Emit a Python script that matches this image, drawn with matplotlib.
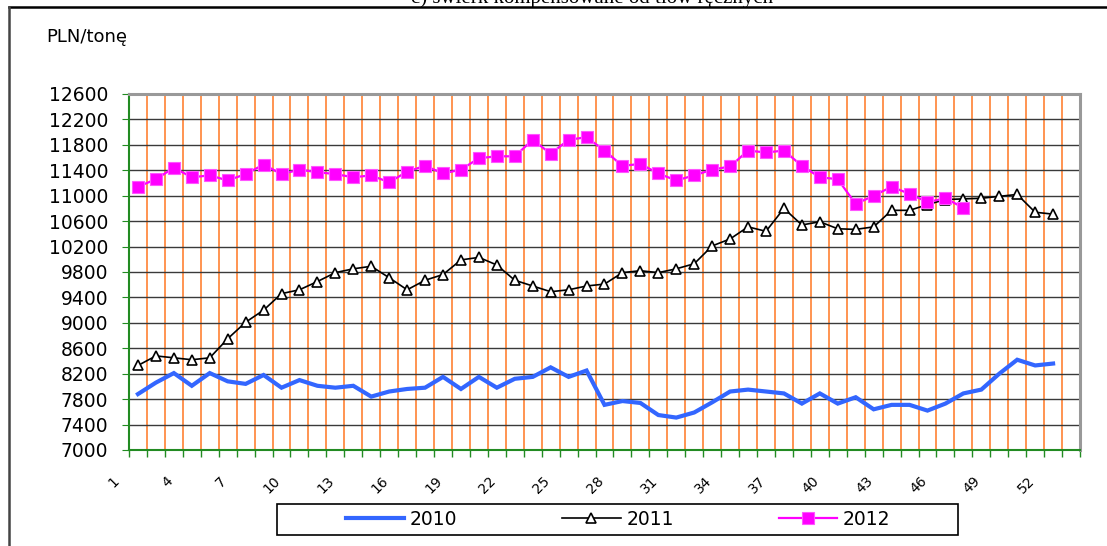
import matplotlib
matplotlib.use("Agg")
import matplotlib.pyplot as plt
import matplotlib.transforms as mtransforms
from matplotlib.lines import Line2D
from matplotlib.patches import Rectangle

# tygodnie i ceny (PLN/tonę)
weeks_2010 = list(range(1, 53))
prices_2010 = [7880, 8060, 8210, 8010, 8210, 8080, 8040, 8180, 7980, 8100,
               8010, 7980, 8010, 7840, 7920, 7960, 7980, 8150, 7960, 8150,
               7980, 8120, 8150, 8300, 8150, 8250, 7710, 7770, 7740, 7550,
               7510, 7590, 7750, 7920, 7950, 7920, 7890, 7730, 7890, 7730,
               7830, 7640, 7710, 7710, 7620, 7730, 7890, 7950, 8200, 8420,
               8330, 8360]

weeks_2011 = list(range(1, 53))
prices_2011 = [8330, 8480, 8450, 8420, 8450, 8750, 9010, 9200, 9460, 9520,
               9650, 9790, 9850, 9890, 9710, 9520, 9670, 9760, 9990, 10030,
               9910, 9670, 9580, 9490, 9520, 9580, 9610, 9790, 9820, 9790,
               9850, 9930, 10210, 10320, 10510, 10440, 10800, 10540, 10590, 10480,
               10470, 10510, 10770, 10770, 10860, 10940, 10950, 10960, 10990, 11020,
               10740, 10710]

weeks_2012 = list(range(1, 48))
prices_2012 = [11140, 11260, 11440, 11290, 11320, 11240, 11340, 11490, 11340, 11410,
               11370, 11340, 11290, 11320, 11210, 11380, 11470, 11350, 11410, 11590,
               11620, 11620, 11880, 11660, 11880, 11920, 11710, 11470, 11500, 11350,
               11240, 11320, 11410, 11460, 11710, 11680, 11710, 11470, 11290, 11260,
               10870, 11000, 11140, 11030, 10900, 10960, 10810]

n_weeks = 53
xtick_pos = list(range(1, 53, 3))
xtick_labels = [str(w) for w in xtick_pos]
y_ticks = list(range(7000, 12601, 400))

W, H = 1107, 546
fig = plt.figure(figsize=(W / 100, H / 100), dpi=100)
ax = fig.add_axes([129 / W, (H - 450) / H, 951 / W, 356 / H])

# pionowa siatka między kategoriami
for b in range(1, n_weeks):
    ax.axvline(b + 0.5, color="#FF7722", lw=1.1, zorder=1)
for y in y_ticks[1:-1]:
    ax.axhline(y, color="#3a3a3a", lw=1.0, zorder=1)

ax.plot(weeks_2010, prices_2010, color="#3366FF", lw=3.0, zorder=3,
        solid_joinstyle="miter", label="2010")
ax.plot(weeks_2011, prices_2011, color="black", lw=1.2, marker="^", ms=6.5,
        mfc="white", mec="black", mew=1.2, zorder=4, label="2011")
ax.plot(weeks_2012, prices_2012, color="#FF00FF", lw=1.6, marker="s", ms=9,
        mfc="#FF00FF", mec="#FF55FF", mew=0.8, zorder=5, label="2012")

ax.set_xlim(0.5, n_weeks + 0.5)
ax.set_ylim(7000, 12600)
ax.set_yticks(y_ticks)
ax.set_yticklabels([str(v) for v in y_ticks], fontsize=13.5)
ax.tick_params(axis="y", direction="out", length=5, color="#228B22", pad=10)

ax.set_xticks(xtick_pos)
ax.set_xticklabels(xtick_labels, fontsize=10, rotation=45, ha="right", va="top")
ax.tick_params(axis="x", which="major", length=0, pad=17)
ax.set_xticks([b + 0.5 for b in range(0, n_weeks + 1)], minor=True)
ax.tick_params(axis="x", which="minor", direction="out", length=5,
               color="#228B22", width=1)
shift = mtransforms.ScaledTranslation(-16 / 100, 0, fig.dpi_scale_trans)
for lbl in ax.get_xticklabels():
    lbl.set_transform(lbl.get_transform() + shift)

for side in ("left", "bottom"):
    ax.spines[side].set_color("#228B22")
    ax.spines[side].set_linewidth(1.5)
for side in ("top", "right"):
    ax.spines[side].set_color("#999999")
    ax.spines[side].set_linewidth(2.2)

fig.text(46 / W, 1 - 37 / H, "PLN/tonę", fontsize=13, va="center", ha="left")

# tytuł przycięty u góry wykresu
fig.text(592 / W, 1 - 3 / H, "c) świerk kompensowane od tłów ręcznych",
         family="Liberation Serif", fontsize=15, ha="center", va="baseline")

# ramka obszaru wykresu
fig.add_artist(Line2D([9 / W, 1], [1 - 7 / H, 1 - 7 / H], color="black", lw=1.8))
fig.add_artist(Line2D([9 / W, 9 / W], [0, 1 - 7 / H], color="#444444", lw=1.8))

# legenda
fig.add_artist(Rectangle((277 / W, 1 - 535 / H), 681 / W, 31 / H,
                         transform=fig.transFigure, fill=False,
                         edgecolor="black", lw=1.2))
fig.legend(loc="center", bbox_to_anchor=(618 / W, 1 - 519.5 / H), ncol=3,
           frameon=False, fontsize=13.5, handlelength=3.1, handletextpad=0.3,
           columnspacing=5.6, borderpad=0.2, markerscale=1.0)

fig.savefig("out.png", dpi=100)
